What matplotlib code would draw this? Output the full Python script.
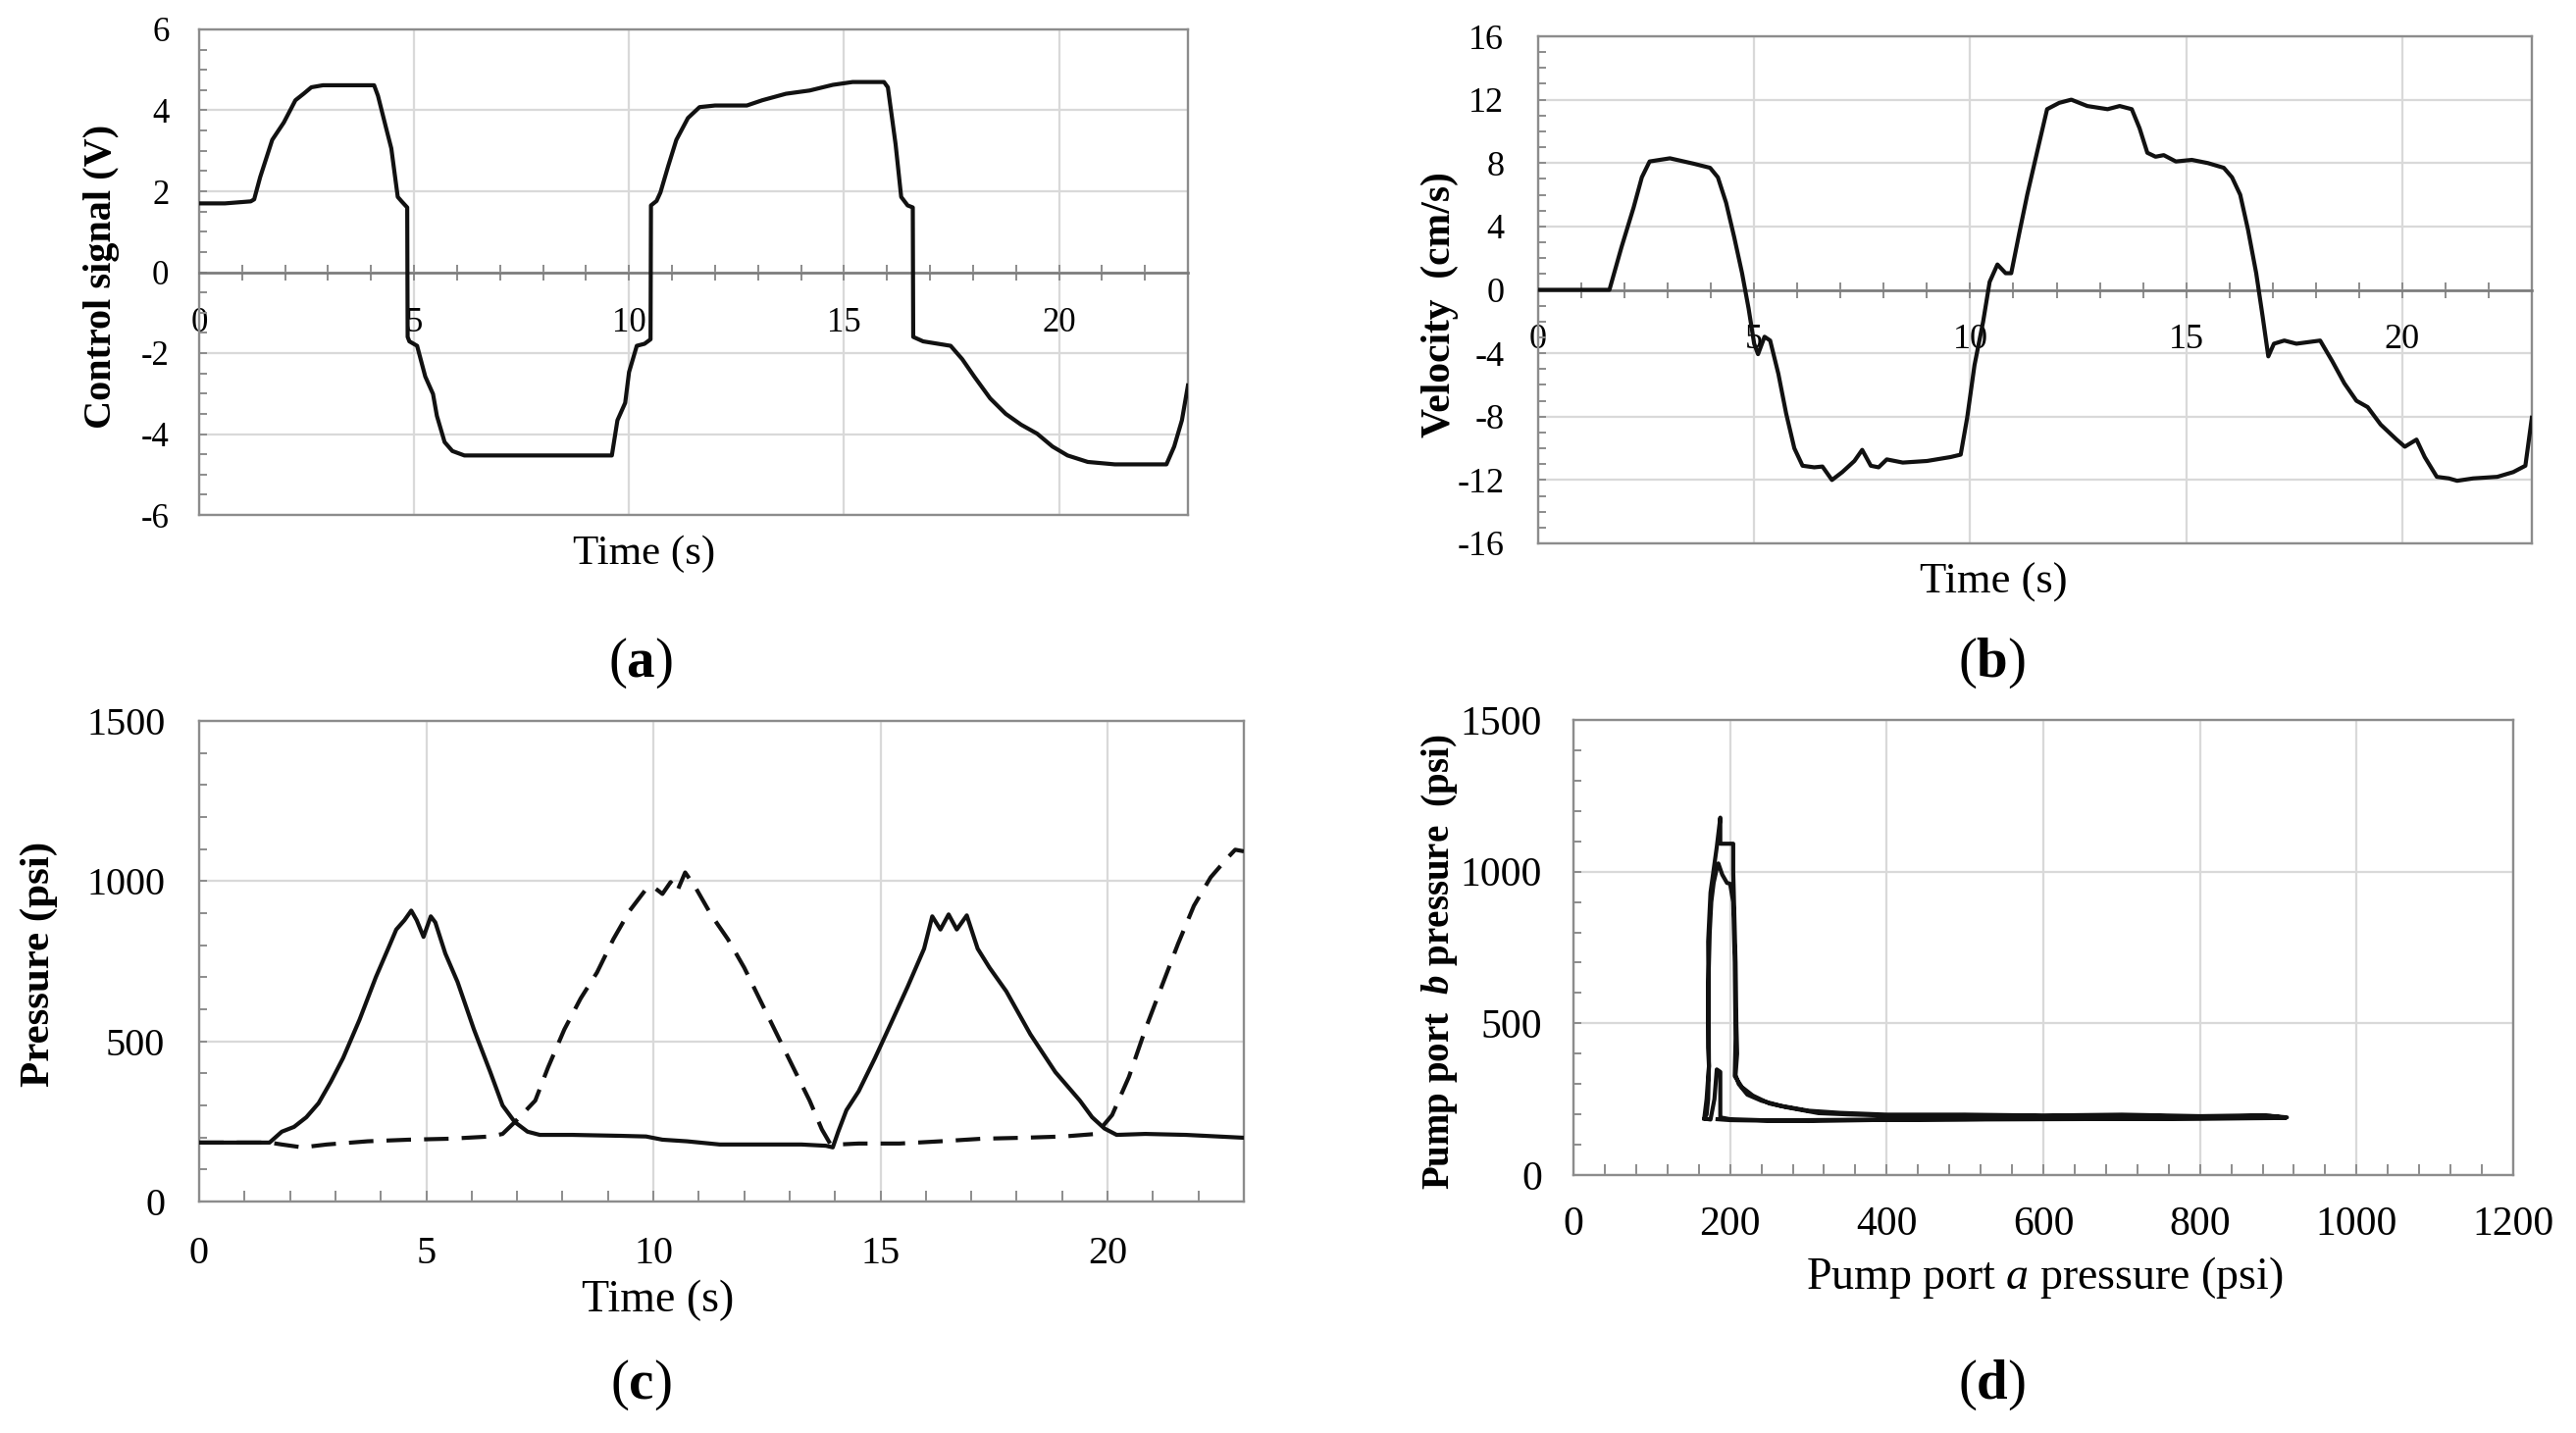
import matplotlib
matplotlib.use("Agg")
import matplotlib.pyplot as plt
from matplotlib.ticker import MultipleLocator, FixedLocator

plt.rcParams['font.family'] = ['Liberation Serif', 'DejaVu Serif']
plt.rcParams['axes.unicode_minus'] = False
plt.rcParams['mathtext.fontset'] = 'custom'
plt.rcParams['mathtext.rm'] = 'Liberation Serif'
plt.rcParams['mathtext.it'] = 'Liberation Serif:italic'
plt.rcParams['mathtext.bf'] = 'Liberation Serif:bold'
plt.rcParams['mathtext.cal'] = 'Liberation Serif:italic:bold'

# ---------------- data ----------------
# (a) control signal
ctrl_t = [0, 0.6, 1.2, 1.28, 1.42, 1.7, 1.97, 2.24, 2.43, 2.61,
          2.88, 3.5, 4.07, 4.16, 4.34, 4.47, 4.62, 4.71, 4.84, 4.85,
          4.89, 5.07, 5.26, 5.44, 5.53, 5.71, 5.89, 6.17, 7.5, 9.6,
          9.73, 9.91, 10.0, 10.18, 10.36, 10.5, 10.51, 10.64, 10.73, 10.91,
          11.1, 11.37, 11.64, 12.0, 12.74, 13.1, 13.65, 14.2, 14.74, 15.2,
          15.93, 16.02, 16.2, 16.33, 16.48, 16.6, 16.61, 16.84, 17.48, 17.75,
          18.03, 18.4, 18.76, 19.12, 19.49, 19.85, 20.2, 20.67, 21.3, 22.5,
          22.68, 22.86, 23.0]
ctrl_v = [1.70, 1.70, 1.75, 1.8, 2.35, 3.27, 3.7, 4.25, 4.41, 4.57,
          4.62, 4.62, 4.62, 4.36, 3.6, 3.06, 1.86, 1.75, 1.6, -1.6,
          -1.71, -1.82, -2.58, -3.01, -3.55, -4.2, -4.42, -4.53, -4.53, -4.53,
          -3.66, -3.23, -2.47, -1.82, -1.77, -1.66, 1.65, 1.76, 1.97, 2.62,
          3.27, 3.81, 4.08, 4.12, 4.12, 4.25, 4.41, 4.49, 4.63, 4.7,
          4.7, 4.57, 3.16, 1.86, 1.65, 1.6, -1.6, -1.71, -1.82, -2.15,
          -2.58, -3.12, -3.5, -3.77, -3.99, -4.31, -4.53, -4.69, -4.75, -4.75,
          -4.31, -3.66, -2.8]

# (b) velocity
vel_t = [0, 1.65, 1.93, 2.21, 2.4, 2.58, 3.05, 3.6, 3.98, 4.16,
         4.35, 4.54, 4.72, 4.87, 5.0, 5.09, 5.24, 5.37, 5.56, 5.74,
         5.93, 6.12, 6.39, 6.58, 6.8, 7.04, 7.32, 7.5, 7.7, 7.88,
         8.07, 8.44, 9.0, 9.55, 9.78, 9.93, 10.1, 10.3, 10.45, 10.63,
         10.82, 10.95, 11.13, 11.32, 11.6, 11.78, 12.06, 12.34, 12.71, 13.18,
         13.46, 13.74, 13.92, 14.1, 14.29, 14.48, 14.76, 15.13, 15.5, 15.87,
         16.06, 16.25, 16.43, 16.62, 16.77, 16.9, 17.03, 17.27, 17.55, 18.1,
         18.38, 18.66, 18.94, 19.2, 19.5, 19.87, 20.06, 20.33, 20.52, 20.8,
         21.08, 21.27, 21.64, 22.2, 22.57, 22.85, 23.0]
vel_v = [0, 0, 2.7, 5.2, 7.1, 8.1, 8.3, 7.96, 7.7, 7.1,
         5.5, 3.3, 1.05, -1.16, -3.4, -4.06, -2.96, -3.2, -5.3, -7.8,
         -10.0, -11.1, -11.2, -11.15, -12.0, -11.5, -10.8, -10.1, -11.1, -11.2,
         -10.7, -10.9, -10.8, -10.55, -10.4, -8.07, -4.75, -2.0, 0.5, 1.6,
         1.05, 1.05, 3.5, 6.0, 9.3, 11.4, 11.8, 12.0, 11.6, 11.4,
         11.6, 11.4, 10.2, 8.65, 8.4, 8.5, 8.1, 8.2, 8.0, 7.7,
         7.1, 6.0, 3.8, 1.05, -1.7, -4.2, -3.4, -3.2, -3.4, -3.2,
         -4.5, -5.9, -7.0, -7.4, -8.5, -9.45, -9.9, -9.45, -10.55, -11.8,
         -11.9, -12.05, -11.9, -11.8, -11.5, -11.1, -8.07]

# (c) pressures vs time
pa_t = [0, 1.55, 1.82, 2.09, 2.36, 2.63, 2.9, 3.17, 3.53, 3.89,
        4.16, 4.34, 4.52, 4.67, 4.79, 4.94, 5.1, 5.2, 5.42, 5.69,
        6.05, 6.41, 6.68, 6.95, 7.23, 7.5, 8.22, 9.3, 9.84, 10.2,
        10.74, 11.46, 12.18, 13.26, 13.8, 13.95, 14.07, 14.25, 14.52, 14.88,
        15.24, 15.6, 15.96, 16.14, 16.32, 16.5, 16.68, 16.9, 17.14, 17.4,
        17.77, 18.3, 18.85, 19.39, 19.66, 19.93, 20.2, 20.83, 21.73, 23.0]
pa_p = [184, 184, 218, 233, 263, 307, 374, 448, 567, 700,
        789, 849, 878, 908, 878, 826, 890, 871, 774, 685,
        537, 404, 300, 248, 218, 208, 208, 205, 203, 193,
        188, 178, 178, 178, 174, 169, 218, 285, 344, 448,
        559, 671, 789, 890, 849, 896, 849, 893, 789, 730,
        656, 522, 404, 315, 263, 228, 208, 211, 208, 199]
pb_t = [0, 1.55, 1.82, 2.27, 2.81, 3.71, 4.61, 5.51, 6.41, 6.68,
        6.95, 7.4, 7.68, 8.04, 8.4, 8.76, 9.12, 9.48, 9.84, 10.0,
        10.2, 10.38, 10.52, 10.7, 10.92, 11.28, 11.64, 12.0, 12.36, 12.72,
        13.08, 13.44, 13.71, 13.89, 14.07, 14.52, 15.42, 16.32, 17.23, 18.13,
        19.03, 19.75, 20.1, 20.47, 20.83, 21.19, 21.55, 21.9, 22.27, 22.63,
        22.81, 23.0]
pb_p = [184, 184, 178, 169, 178, 188, 193, 196, 203, 211,
        248, 315, 418, 537, 634, 715, 819, 908, 975, 982,
        960, 997, 967, 1027, 982, 893, 819, 730, 626, 522,
        418, 315, 225, 181, 178, 181, 181, 188, 196, 199,
        203, 211, 270, 389, 537, 671, 804, 923, 1012, 1071,
        1098, 1093]

# (d) port a vs port b pressure
pump_a = [184, 200, 250, 300, 400, 500, 600, 700, 800, 860, 905, 911,
          890, 800, 700, 600, 500, 400, 350, 313, 271, 250, 229, 215, 206,
          207, 206, 204, 200, 196, 190, 185, 183,
          179, 176, 174, 172, 172, 173, 172, 170, 167,
          175, 180, 183, 187.5, 187.5, 200, 250, 300, 400, 500, 600, 700, 800, 880, 909,
          880, 800, 700, 600, 500, 400, 340, 300, 265, 240, 222, 211, 207,
          209, 208, 207, 205, 204, 204, 195, 187.5,
          187.5, 183, 179, 175, 172, 173, 170, 167]
pump_b = [184, 181, 179, 178, 182, 183, 184, 185, 186, 187, 188, 190,
          195, 192, 196, 194, 197, 196, 200, 204, 224, 236, 262, 290, 326,
          450, 700, 900, 960, 963, 990, 1027, 1010,
          963, 900, 800, 600, 420, 359, 250, 200, 186,
          183, 250, 348, 340, 190, 184, 180, 181, 183, 184, 186, 186, 187, 188, 189,
          197, 194, 199, 196, 199, 199, 205, 212, 228, 245, 265, 300, 330,
          400, 500, 700, 900, 1000, 1092, 1092, 1092,
          1178, 1081, 1006, 931, 770, 359, 250, 186]

time_ticks = [0, 5, 10, 15, 20]

# ---------------- layout ----------------
W, H = 2626, 1461
fig = plt.figure(figsize=(W / 100, H / 100), dpi=100)


def box(l, t, r, b):
    return [l / W, 1 - b / H, (r - l) / W, (b - t) / H]


def fpos(x, y):
    return x / W, 1 - y / H


SPC = '#8c8c8c'
GRC = '#d9d9d9'
LC = '#111111'
LW = 3.0


def style(ax):
    for s in ax.spines.values():
        s.set_color(SPC)
        s.set_linewidth(1.7)
    ax.grid(True, which='major', color=GRC, lw=1.6, zorder=0)
    ax.set_axisbelow(True)


# (a)
axa = fig.add_axes(box(203, 30, 1211, 525))
style(axa)
axa.plot(ctrl_t, ctrl_v, color=LC, lw=LW, zorder=3)
axa.set_xlim(0, 23)
axa.set_ylim(-6, 6)
axa.spines['bottom'].set_position(('data', 0))
axa.spines['bottom'].set_color('#7a7a7a')
axa.spines['bottom'].set_linewidth(1.9)
axa.plot([0, 1], [0, 0], transform=axa.transAxes, color=SPC, lw=1.7, clip_on=False)
axa.xaxis.set_major_locator(FixedLocator(time_ticks))
axa.xaxis.set_minor_locator(MultipleLocator(1))
axa.yaxis.set_major_locator(MultipleLocator(2))
axa.yaxis.set_minor_locator(MultipleLocator(0.5))
axa.tick_params(axis='x', which='both', direction='inout', length=11, width=1.4,
                color=SPC, pad=20, labelsize=25)
axa.tick_params(axis='y', which='both', direction='in', length=6, width=1.4,
                color=SPC, pad=22, labelsize=25)

# (b)
axb = fig.add_axes(box(1568, 37, 2581, 554))
style(axb)
axb.plot(vel_t, vel_v, color=LC, lw=LW, zorder=3)
axb.set_xlim(0, 23)
axb.set_ylim(-16, 16)
axb.spines['bottom'].set_position(('data', 0))
axb.spines['bottom'].set_color('#7a7a7a')
axb.spines['bottom'].set_linewidth(1.9)
axb.plot([0, 1], [0, 0], transform=axb.transAxes, color=SPC, lw=1.7, clip_on=False)
axb.xaxis.set_major_locator(FixedLocator(time_ticks))
axb.xaxis.set_minor_locator(MultipleLocator(1))
axb.yaxis.set_major_locator(MultipleLocator(4))
axb.yaxis.set_minor_locator(MultipleLocator(1))
axb.tick_params(axis='x', which='both', direction='inout', length=11, width=1.4,
                color=SPC, pad=19, labelsize=26)
axb.tick_params(axis='y', which='both', direction='in', length=6, width=1.4,
                color=SPC, pad=25, labelsize=26)

# (c)
axc = fig.add_axes(box(203, 735, 1268, 1225))
style(axc)
axc.plot(pa_t, pa_p, color=LC, lw=LW, zorder=3)
axc.plot(pb_t, pb_p, color=LC, lw=LW, ls=(0, (6, 3.2)), zorder=3)
axc.set_xlim(0, 23)
axc.set_ylim(0, 1500)
axc.xaxis.set_major_locator(FixedLocator(time_ticks))
axc.xaxis.set_minor_locator(MultipleLocator(1))
axc.yaxis.set_major_locator(MultipleLocator(500))
axc.yaxis.set_minor_locator(MultipleLocator(100))
axc.tick_params(axis='x', which='both', direction='in', length=8, width=1.4,
                color=SPC, pad=25, labelsize=29)
axc.tick_params(axis='y', which='both', direction='in', length=6, width=1.4,
                color=SPC, pad=25, labelsize=29)

# (d)
axd = fig.add_axes(box(1604, 734, 2562, 1198))
style(axd)
axd.plot(pump_a, pump_b, color=LC, lw=LW, zorder=3)
axd.set_xlim(0, 1200)
axd.set_ylim(0, 1500)
axd.xaxis.set_major_locator(MultipleLocator(200))
axd.xaxis.set_minor_locator(MultipleLocator(40))
axd.yaxis.set_major_locator(MultipleLocator(500))
axd.yaxis.set_minor_locator(MultipleLocator(100))
axd.tick_params(axis='x', which='both', direction='in', length=8, width=1.4,
                color=SPC, pad=23, labelsize=30)
axd.tick_params(axis='y', which='both', direction='in', length=6, width=1.4,
                color=SPC, pad=23, labelsize=30)

# axis labels
fig.text(*fpos(104, 282), 'Control signal (V)', rotation=90, ha='center', va='center',
         fontsize=29, fontweight='bold')
fig.text(*fpos(1468, 311), 'Velocity  (cm/s)', rotation=90, ha='center', va='center',
         fontsize=30, fontweight='bold')
fig.text(*fpos(40, 983), 'Pressure (psi)', rotation=90, ha='center', va='center',
         fontsize=31, fontweight='bold')
fig.text(*fpos(1467, 981), r'Pump port  $\mathcal{b}$ pressure  (psi)', rotation=90,
         ha='center', va='center', fontsize=28, fontweight='bold')

fig.text(*fpos(657, 565), 'Time (s)', ha='center', va='center', fontsize=31)
fig.text(*fpos(2032, 594), 'Time (s)', ha='center', va='center', fontsize=32)
fig.text(*fpos(671, 1326), 'Time (s)', ha='center', va='center', fontsize=33)
fig.text(*fpos(2084, 1302), r'Pump port $\mathit{a}$ pressure (psi)', ha='center',
         va='center', fontsize=33)

# panel letters
for (x, y), s in zip([(653, 676), (2031, 676), (653, 1412), (2031, 1412)],
                     ['a', 'b', 'c', 'd']):
    fig.text(*fpos(x, y), '(' + r'$\mathbf{' + s + '}$' + ')', ha='center',
             va='center', fontsize=41)

fig.savefig('out.png', dpi=100, facecolor='white')
